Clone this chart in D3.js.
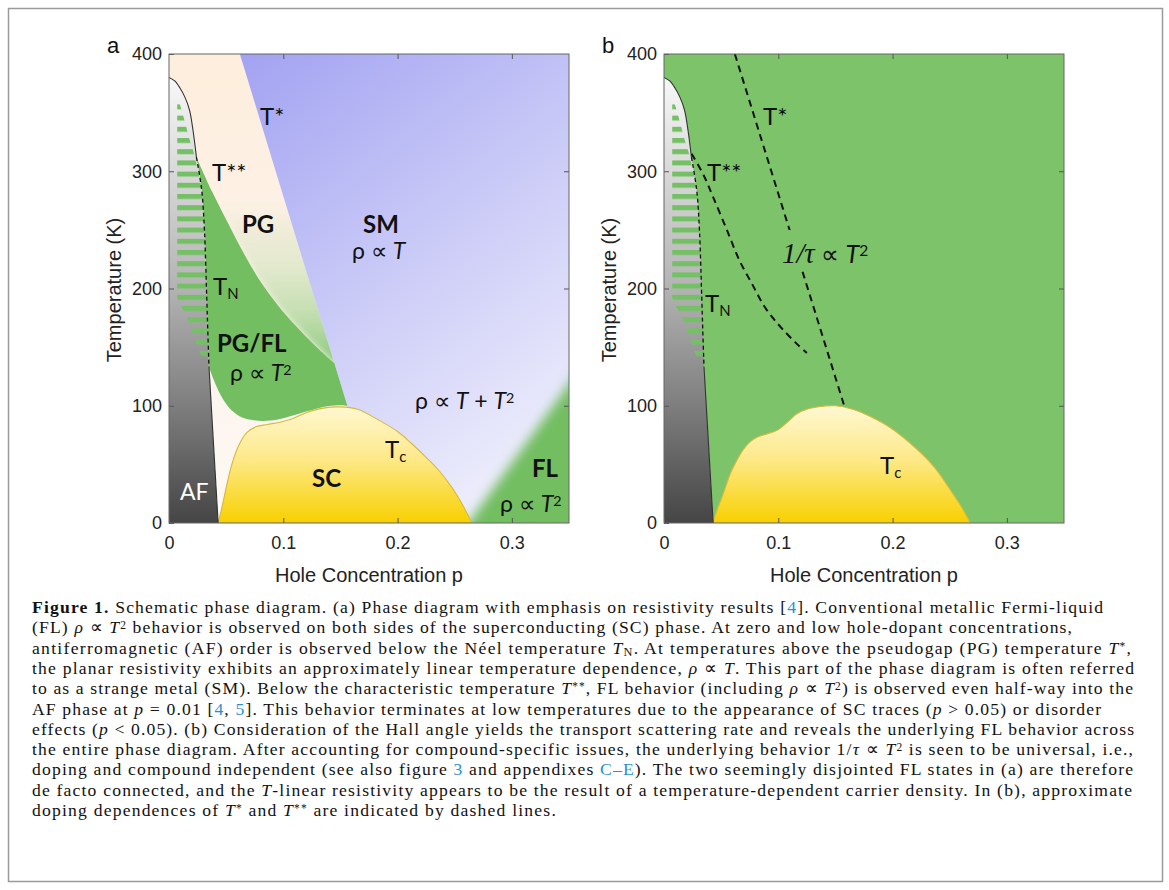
<!DOCTYPE html>
<html><head><meta charset="utf-8">
<script src="https://cdn.jsdelivr.net/npm/d3@7"></script>
<style>body{margin:0;background:#fff} svg{display:block}</style>
</head><body><svg id="c" width="1169" height="890"></svg>
<script>
// ---------------- data ----------------
const xTicks = [0, 0.1, 0.2, 0.3];
const yTicks = [0, 100, 200, 300, 400];
const pDomain = [0, 0.35];
const tDomain = [0, 400];
// AF (Neel) boundary, (p, T)
const afCurve = [[0,380],[0.005,377],[0.0096,371],[0.014,363],[0.018,352],[0.021,335],[0.024,312]];
const tnLine  = [[0.024,312],[0.0286,284],[0.031,250],[0.033,193],[0.034,162],[0.035,133]];
const afBase  = [[0.035,133],[0.043,0]];
// hatched FL stripes inside AF
const hatchRight = [[0.0096,357],[0.014,342],[0.018,327],[0.021,318],[0.0235,308],[0.0286,284],[0.031,250],[0.033,193],[0.034,162],[0.0345,141]];
const hatchLeft  = [[0.0072,360],[0.0072,192],[0.011,184],[0.015,177],[0.019,168],[0.022,159],[0.025,150],[0.029,141]];
// panel a
const tStarA = [[0.062,400],[0.157,97]];
const tStarStarA = [[0.024,312],[0.038,282],[0.052,255],[0.066,229],[0.08,206],[0.095,186],[0.11,169],[0.128,151],[0.145,136]];
const greenBottomA = [[0.035,133],[0.04,120],[0.047,106],[0.055,96],[0.064,90],[0.072,88],[0.082,87],[0.094,88],[0.106,91],[0.12,95],[0.135,99],[0.148,100.5],[0.156,100]];
const domeA = [[0.043,0],[0.046,12],[0.05,30],[0.055,50],[0.061,66],[0.068,77],[0.076,82],[0.086,84],[0.097,86],[0.108,89],[0.12,94],[0.135,98],[0.15,99],[0.165,97],[0.183,88],[0.2,78],[0.212,68],[0.225,56],[0.236,45],[0.247,31],[0.256,17],[0.265,0]];
const flEdgeA = [[0.247,-20],[0.36,132]];
// panel b
const tStarB = [[0.062,400],[0.158,99]];
const tStarStarB = [[0.0242,315],[0.035,296],[0.043,278],[0.055,250],[0.066,224],[0.077,204],[0.087,186],[0.096,174],[0.104,165],[0.116,153],[0.125,145]];
const domeB = [[0.043,0],[0.046,10],[0.05,20],[0.054,31],[0.058,42],[0.063,52],[0.069,62],[0.075,69],[0.081,73],[0.09,76],[0.099,79],[0.108,86],[0.116,93],[0.125,97],[0.134,99],[0.15,100],[0.165,97],[0.18,91],[0.2,80],[0.22,64],[0.237,47],[0.25,29],[0.26,14],[0.268,0]];

// ---------------- setup ----------------
const svg = d3.select("#c");
const defs = svg.append("defs");
const yS = d3.scaleLinear(tDomain, [523, 54]);
const xA = d3.scaleLinear(pDomain, [169, 569]);
const xB = d3.scaleLinear(pDomain, [664, 1064]);
const LABEL_FONT = "Lato, 'Open Sans', sans-serif";
const AX_FONT = "'Liberation Sans', Arial, sans-serif";

function grad(id, x1, y1, x2, y2, stops) {
  const g = defs.append("linearGradient").attr("id", id).attr("gradientUnits", "userSpaceOnUse")
    .attr("x1", x1).attr("y1", y1).attr("x2", x2).attr("y2", y2);
  stops.forEach(([o, c, op]) => g.append("stop").attr("offset", o).attr("stop-color", c).attr("stop-opacity", op == null ? 1 : op));
}
function pathOf(x, segs, close = true) {
  let d = "";
  segs.forEach((s, i) => {
    const gen = d3.line().x(p => x(p[0])).y(p => yS(p[1])).curve(s.c || d3.curveLinear);
    let part = gen(s.pts);
    if (i > 0) part = "L" + part.slice(1);
    d += part;
  });
  return d + (close ? "Z" : "");
}
const smooth = d3.curveCatmullRom.alpha(0.5);
const rev = a => a.slice().reverse();

// gradients
grad("gBlue", 240, 54, 565, 480, [[0, "#a2a2f2"], [0.45, "#c7c7f7"], [1, "#f2f2fd"]]);
grad("gPeach", 0, yS(400), 0, yS(0), [[0, "#fdeedd"], [0.55, "#fdf3ea"], [1, "#fdf9f6"]]);
grad("gFade", 0, yS(272), 0, yS(136), [[0, "#74c064", 0], [0.35, "#9fd28c", 0.25], [0.7, "#86c873", 0.5], [1, "#74c064", 0.85]]);
grad("gGray", 0, yS(385), 0, yS(0), [[0, "#fafafa"], [0.2, "#dcdcdc"], [0.48, "#b3b3b3"], [0.74, "#7e7e7e"], [1, "#454545"]]);
grad("gDome", 0, yS(100), 0, yS(0), [[0, "#fff8d2"], [0.45, "#fde98a"], [1, "#f8d000"]]);
const blur = defs.append("filter").attr("id", "blur").attr("x", "-20%").attr("y", "-20%").attr("width", "140%").attr("height", "140%");
blur.append("feGaussianBlur").attr("stdDeviation", 6);
const blur2 = defs.append("filter").attr("id", "blur2").attr("x", "-10%").attr("y", "-10%").attr("width", "120%").attr("height", "120%");
blur2.append("feGaussianBlur").attr("stdDeviation", 3);
const pat = defs.append("pattern").attr("id", "hatch").attr("patternUnits", "userSpaceOnUse")
  .attr("x", 0).attr("y", 104.4).attr("width", 20).attr("height", 11.2);
pat.append("rect").attr("x", 0).attr("y", 0).attr("width", 20).attr("height", 5).attr("fill", "#74c064");

function clip(id, x) {
  defs.append("clipPath").attr("id", id).append("rect")
    .attr("x", x(0)).attr("y", yS(400)).attr("width", x(0.35) - x(0)).attr("height", yS(0) - yS(400));
}
clip("clipA", xA); clip("clipB", xB);

function lbl(g, x, y, parts, size, opts = {}) {
  const t = g.append("text").attr("x", x).attr("y", y).attr("font-family", opts.font || LABEL_FONT)
    .attr("font-size", size).attr("fill", opts.fill || "#111").attr("font-weight", opts.bold ? 700 : 400);
  parts.forEach(([s, st]) => {
    const ts = t.append("tspan").text(s);
    if (st && st.includes("i")) ts.attr("font-style", "italic");
    if (st && st.includes("sup")) ts.attr("baseline-shift", "42%").attr("font-size", size * 0.62);
    if (st && st.includes("sub")) ts.attr("baseline-shift", "-28%").attr("font-size", size * 0.62);
    if (st && st.includes("serif")) ts.attr("font-family", "'Liberation Serif', serif").attr("font-size", size * 1.15);
  });
  return t;
}

function afLayer(g, x) {
  g.append("path").attr("d", pathOf(x, [{pts: [[0,0],[0,380]]}, {pts: afCurve, c: smooth}, {pts: tnLine, c: smooth}, {pts: afBase}]))
    .attr("fill", "url(#gGray)");
  g.append("path").attr("d", pathOf(x, [{pts: hatchRight, c: smooth}, {pts: rev(hatchLeft)}]))
    .attr("fill", "url(#hatch)");
  g.append("path").attr("d", pathOf(x, [{pts: afCurve, c: smooth}], false)).attr("fill", "none").attr("stroke", "#333").attr("stroke-width", 1.1);
  g.append("path").attr("d", pathOf(x, [{pts: afBase}], false)).attr("fill", "none").attr("stroke", "#333").attr("stroke-width", 1.1);
  g.append("path").attr("d", pathOf(x, [{pts: tnLine, c: smooth}], false)).attr("fill", "none")
    .attr("stroke", "#111").attr("stroke-width", 1.3).attr("stroke-dasharray", "4,3");
}
function domeLayer(g, x, dome) {
  g.append("path").attr("d", pathOf(x, [{pts: dome, c: smooth}])).attr("fill", "url(#gDome)")
    .attr("stroke", "#d9b93a").attr("stroke-width", 1.1);
}
function axes(x, letter, letterX) {
  const g = svg.append("g");
  const style = sel => {
    sel.select(".domain").remove();
    sel.selectAll(".tick line").attr("stroke", "#555");
    sel.selectAll(".tick text").attr("font-family", AX_FONT).attr("font-size", 18).attr("fill", "#222");
  };
  g.append("g").attr("transform", `translate(0,${yS(0)})`)
    .call(d3.axisBottom(x).tickValues(xTicks).tickSize(-5).tickPadding(13).tickFormat(d => d === 0 ? "0" : d3.format(".1f")(d))).call(style);
  g.append("g").attr("transform", `translate(0,${yS(400)})`)
    .call(d3.axisTop(x).tickValues(xTicks.slice(1)).tickSize(-5).tickFormat("")).call(style);
  g.append("g").attr("transform", `translate(${x(0)},0)`)
    .call(d3.axisLeft(yS).tickValues(yTicks).tickSize(-5).tickPadding(7)).call(style);
  g.append("g").attr("transform", `translate(${x(0.35)},0)`)
    .call(d3.axisRight(yS).tickValues(yTicks.slice(1, 4)).tickSize(-5).tickFormat("")).call(style);
  g.append("rect").attr("x", x(0)).attr("y", yS(400)).attr("width", x(0.35) - x(0)).attr("height", yS(0) - yS(400))
    .attr("fill", "none").attr("stroke", "#666").attr("stroke-width", 1);
  g.append("text").attr("x", (x(0) + x(0.35)) / 2).attr("y", 582).attr("text-anchor", "middle")
    .attr("font-family", AX_FONT).attr("font-size", 20).attr("fill", "#222").text("Hole Concentration p");
  g.append("text").attr("transform", `translate(${x(0) - 48},290) rotate(-90)`).attr("text-anchor", "middle")
    .attr("font-family", AX_FONT).attr("font-size", 20).attr("fill", "#222").text("Temperature (K)");
  g.append("text").attr("x", letterX).attr("y", 53).attr("font-family", AX_FONT).attr("font-size", 22).attr("fill", "#111").text(letter);
}

// ---------------- panel a ----------------
{
  const x = xA;
  const g = svg.append("g").attr("clip-path", "url(#clipA)");
  g.append("rect").attr("x", x(0)).attr("y", yS(400)).attr("width", x(0.35) - x(0)).attr("height", yS(0) - yS(400)).attr("fill", "url(#gBlue)");
  // PG / left region
  g.append("path").attr("d", pathOf(x, [{pts: tStarA}, {pts: [[tStarA[1][0], 0], [0, 0], [0, 400]]}])).attr("fill", "url(#gPeach)");
  const tsP = T => tStarA[0][0] + (tStarA[0][1] - T) * (tStarA[1][0] - tStarA[0][0]) / (tStarA[0][1] - tStarA[1][1]);
  // PG -> FL fade (clipped to the PG wedge)
  defs.append("clipPath").attr("id", "pgWedge").append("path")
    .attr("d", pathOf(x, [{pts: [[0, 400], [tStarA[0][0], 400], [tsP(100), 100], [0, 100]]}]));
  g.append("g").attr("clip-path", "url(#pgWedge)").append("path")
    .attr("d", pathOf(x, [{pts: tStarStarA.slice(1), c: smooth}, {pts: [[0.2, 136], [0.2, 276]]}])).attr("fill", "url(#gFade)").attr("filter", "url(#blur2)");
  // PG/FL green
  g.append("path").attr("d", pathOf(x, [{pts: tnLine, c: smooth}, {pts: greenBottomA, c: smooth}, {pts: [[tsP(100), 100], [tsP(136), 136]]}, {pts: rev(tStarStarA), c: smooth}]))
    .attr("fill", "#72be60");
  // FL (overdoped) green
  g.append("path").attr("d", pathOf(x, [{pts: flEdgeA}, {pts: [[0.36, -20]]}])).attr("fill", "#72be60").attr("filter", "url(#blur)");
  domeLayer(g, x, domeA);
  afLayer(g, x);
  axes(x, "a", 107);
  const L = svg.append("g");
  const X = v => x(0) + v;
  lbl(L, X(91), 125, [["T*"]], 24);
  lbl(L, X(43), 181, [["T**"]], 24);
  lbl(L, X(73), 233, [["PG"]], 24, {bold: true});
  lbl(L, X(194), 233, [["SM"]], 24, {bold: true});
  lbl(L, X(183), 259, [["ρ ∝ "], ["T", "i"]], 23);
  lbl(L, X(44), 295, [["T"], ["N", "sub"]], 24);
  lbl(L, X(48), 352, [["PG/FL"]], 24, {bold: true});
  lbl(L, X(61), 381, [["ρ ∝ "], ["T", "i"], ["2", "sup"]], 23);
  lbl(L, X(246), 409, [["ρ ∝ "], ["T", "i"], [" + "], ["T", "i"], ["2", "sup"]], 23);
  lbl(L, X(216), 458, [["T"], ["c", "sub"]], 24);
  lbl(L, X(143), 487, [["SC"]], 24, {bold: true});
  lbl(L, X(11), 500, [["AF"]], 23, {fill: "#fff"});
  lbl(L, X(363), 477, [["FL"]], 24, {bold: true});
  lbl(L, X(331), 512, [["ρ ∝ "], ["T", "i"], ["2", "sup"]], 23);
}

// ---------------- panel b ----------------
{
  const x = xB;
  const g = svg.append("g").attr("clip-path", "url(#clipB)");
  g.append("rect").attr("x", x(0)).attr("y", yS(400)).attr("width", x(0.35) - x(0)).attr("height", yS(0) - yS(400)).attr("fill", "#7dc36a");
  domeLayer(g, x, domeB);
  afLayer(g, x);
  const dash = pts => g.append("path").attr("d", pathOf(x, [{pts, c: smooth}], false)).attr("fill", "none")
    .attr("stroke", "#111").attr("stroke-width", 2).attr("stroke-dasharray", "7,5");
  dash(tStarB);
  dash(tStarStarB);
  axes(x, "b", 602);
  const L = svg.append("g");
  const X = v => x(0) + v;
  L.append("rect").attr("x", X(116)).attr("y", 230).attr("width", 42).attr("height", 40).attr("fill", "#7dc36a");
  lbl(L, X(99), 125, [["T*"]], 24);
  lbl(L, X(43), 181, [["T**"]], 24);
  lbl(L, X(41), 312, [["T"], ["N", "sub"]], 24);
  lbl(L, X(118), 263, [["1/τ", "serif"], [" ∝ "], ["T", "i"], ["2", "sup"]], 25);
  lbl(L, X(216), 474, [["T"], ["c", "sub"]], 24);
}

// ---------------- caption ----------------
const captionLines = [
  [["Figure 1.", "b"], [" Schematic phase diagram. (a) Phase diagram with emphasis on resistivity results ["], ["4", "blue"], ["]. Conventional metallic Fermi-liquid"]],
  [["(FL) "], ["ρ", "i"], [" ∝ "], ["T", "i"], ["2", "sup"], [" behavior is observed on both sides of the superconducting (SC) phase. At zero and low hole-dopant concentrations,"]],
  [["antiferromagnetic (AF) order is observed below the Néel temperature "], ["T", "i"], ["N", "sub"], [". At temperatures above the pseudogap (PG) temperature "], ["T", "i"], ["*", "sup"], [","]],
  [["the planar resistivity exhibits an approximately linear temperature dependence, "], ["ρ", "i"], [" ∝ "], ["T", "i"], [". This part of the phase diagram is often referred"]],
  [["to as a strange metal (SM). Below the characteristic temperature "], ["T", "i"], ["**", "sup"], [", FL behavior (including "], ["ρ", "i"], [" ∝ "], ["T", "i"], ["2", "sup"], [") is observed even half-way into the"]],
  [["AF phase at "], ["p", "i"], [" = 0.01 ["], ["4", "blue"], [", "], ["5", "blue"], ["]. This behavior terminates at low temperatures due to the appearance of SC traces ("], ["p", "i"], [" > 0.05) or disorder"]],
  [["effects ("], ["p", "i"], [" < 0.05). (b) Consideration of the Hall angle yields the transport scattering rate and reveals the underlying FL behavior across"]],
  [["the entire phase diagram. After accounting for compound-specific issues, the underlying behavior 1/"], ["τ", "i"], [" ∝ "], ["T", "i"], ["2", "sup"], [" is seen to be universal, i.e.,"]],
  [["doping and compound independent (see also figure "], ["3", "blue"], [" and appendixes "], ["C–E", "blue"], ["). The two seemingly disjointed FL states in (a) are therefore"]],
  [["de facto connected, and the "], ["T", "i"], ["-linear resistivity appears to be the result of a temperature-dependent carrier density. In (b), approximate"]],
  [["doping dependences of "], ["T", "i"], ["*", "sup"], [" and "], ["T", "i"], ["**", "sup"], [" are indicated by dashed lines."]]
];
const captionEnds = [1103, 1072, 1131, 1134, 1133, 1101, 1134, 1133, 1133, 1132, null];
const cap = svg.append("g");
const capSize = 17.6;
const capTexts = captionLines.map((parts, i) => {
  const t = cap.append("text").attr("x", 32).attr("y", 613 + i * 20.3)
    .attr("font-family", "'Liberation Serif', 'Times New Roman', serif").attr("font-size", capSize).attr("fill", "#111");
  parts.forEach(([s, st]) => {
    const ts = t.append("tspan").text(s);
    if (st === "b") ts.attr("font-weight", 700);
    if (st === "i") ts.attr("font-style", "italic");
    if (st === "blue") ts.attr("fill", "#2b8fd6");
    if (st === "sup") ts.attr("baseline-shift", "40%").attr("font-size", "65%");
    if (st === "sub") ts.attr("baseline-shift", "-20%").attr("font-size", "70%");
  });
  return t;
});
// widen the last (ragged) line by the same average spacing as the full lines
const ratios = capTexts.slice(0, 10).map((t, i) => (captionEnds[i] - 32) / t.node().getComputedTextLength());
const meanR = d3.mean(ratios);
capTexts.forEach((t, i) => {
  const target = captionEnds[i] ? captionEnds[i] - 32 : t.node().getComputedTextLength() * meanR;
  t.attr("textLength", target).attr("lengthAdjust", "spacing");
});

// frame
svg.append("rect").attr("x", 8.5).attr("y", 8.5).attr("width", 1154).attr("height", 873)
  .attr("fill", "none").attr("stroke", "#9a9a9a").attr("stroke-width", 1.5);
</script></body></html>
